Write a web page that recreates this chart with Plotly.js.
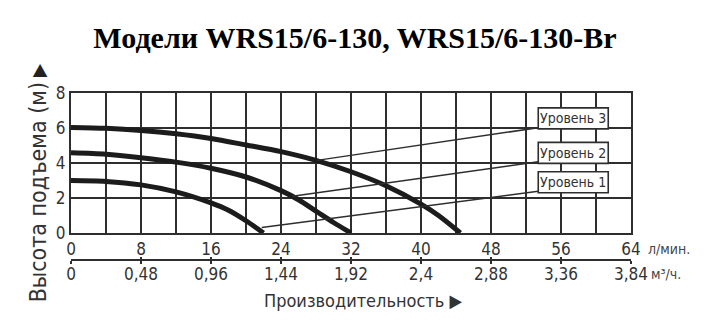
<!DOCTYPE html>
<html>
<head>
<meta charset="utf-8">
<script src="https://cdn.plot.ly/plotly-3.0.1.min.js"></script>
<style>html,body{margin:0;padding:0;background:#fff;}#chart{width:710px;height:335px;}</style>
</head>
<body>
<div id="chart"></div>
<script>
// ---- data ----
const level1X = [0, 4, 8, 12, 16, 18, 20, 22];
const level1Y = [3.0, 2.95, 2.75, 2.35, 1.72, 1.3, 0.7, 0];
const level2X = [0, 4, 8, 12, 16, 20, 24, 26, 28, 30, 32];
const level2Y = [4.58, 4.5, 4.3, 4.05, 3.7, 3.2, 2.42, 1.9, 1.25, 0.6, 0];
const level3X = [0, 4, 8, 12, 16, 20, 24, 28, 32, 36, 40, 42, 44.5];
const level3Y = [6.03, 5.98, 5.86, 5.67, 5.4, 5.03, 4.65, 4.15, 3.5, 2.7, 1.65, 1.0, 0];

const leader1X = [21.8, 53.4], leader1Y = [0.32, 2.38];
const leader2X = [25.3, 53.4], leader2Y = [2.1, 4.07];
const leader3X = [28.1, 53.4], leader3Y = [4.15, 6.02];

const levelLabels = ["Уровень 1", "Уровень 2", "Уровень 3"];
const labelCenterY = [2.9, 4.58, 6.55];

const flowTicks = [0, 8, 16, 24, 32, 40, 48, 56, 64];
const flowTickText = ["0", "8", "16", "24", "32", "40", "48", "56", "64"];
const m3TickText = ["0", "0,48", "0,96", "1,44", "1,92", "2,4", "2,88", "3,36", "3,84"];
const headTicks = [0, 2, 4, 6, 8];

const titleText = "Модели WRS15/6-130, WRS15/6-130-Br";
const yTitleText = "Высота подъема (м)";
const xTitleText = "Производительность ▶";
const unitLmin = "л/мин.";
const unitM3 = "м³/ч.";

// ---- styling ----
const NARROW = "'Liberation Sans Narrow', 'Arial Narrow', 'DejaVu Sans Condensed', Arial, sans-serif";
const INK = "#2e2e2e";
const CURVE = "#1c1c1c";

const gridVals = [];
const gridText = [];
for (let v = 0; v <= 64; v += 4) {
  gridVals.push(v);
  const k = flowTicks.indexOf(v);
  gridText.push(k >= 0 ? flowTickText[k] : "");
}

const curveStyle = {color: CURVE, width: 5, shape: "spline", smoothing: 0.8};
const leaderStyle = {color: INK, width: 1.5};

const traces = [
  {x: level1X, y: level1Y, mode: "lines", line: curveStyle, hoverinfo: "skip"},
  {x: level2X, y: level2Y, mode: "lines", line: curveStyle, hoverinfo: "skip"},
  {x: level3X, y: level3Y, mode: "lines", line: curveStyle, hoverinfo: "skip"},
  {x: leader1X, y: leader1Y, mode: "lines", line: leaderStyle, hoverinfo: "skip"},
  {x: leader2X, y: leader2Y, mode: "lines", line: leaderStyle, hoverinfo: "skip"},
  {x: leader3X, y: leader3Y, mode: "lines", line: leaderStyle, hoverinfo: "skip"}
];

const shapes = labelCenterY.map(c => ({
  type: "rect", xref: "x", yref: "y",
  x0: 53.4, x1: 61.4, y0: c - 0.6, y1: c + 0.6,
  fillcolor: "#fff", line: {color: INK, width: 1.6}, layer: "above"
}));

const annotations = labelCenterY.map((c, i) => ({
  xref: "x", yref: "y", x: 57.4, y: c, text: levelLabels[i], showarrow: false,
  font: {family: NARROW, size: 14, color: "#333"}, xanchor: "center", yanchor: "middle"
}));

const Y_DOMAIN_LO = 27 / 167;

annotations.push(
  {xref: "paper", yref: "paper", xanchor: "left", yanchor: "middle", x: 1, xshift: 15, y: Y_DOMAIN_LO, yshift: -15.5,
   showarrow: false, text: unitLmin, font: {family: NARROW, size: 14, color: "#444"}},
  {xref: "paper", yref: "paper", xanchor: "left", yanchor: "middle", x: 1, xshift: 18, y: 0, yshift: -13.5,
   showarrow: false, text: unitM3, font: {family: NARROW, size: 14, color: "#444"}},
  {xref: "paper", yref: "paper", xanchor: "center", yanchor: "middle", x: 0.521, y: 0, yshift: -40, showarrow: false,
   text: xTitleText, font: {family: NARROW, size: 18, color: "#333"}},
  {xref: "paper", yref: "paper", xanchor: "center", yanchor: "middle", x: 0, xshift: -33, y: 0.405, showarrow: false,
   textangle: -90, text: yTitleText, font: {family: NARROW, size: 23, color: "#333"}},
  {xref: "paper", yref: "paper", xanchor: "center", yanchor: "middle", x: 0, xshift: -33, y: 1, yshift: 23, showarrow: false,
   textangle: -90, text: "▶", font: {family: NARROW, size: 19, color: "#222"}}
);

const tickFont = {family: NARROW, size: 17, color: "#333"};

const layout = {
  width: 710, height: 335,
  margin: {l: 71, r: 79, t: 93, b: 75},
  paper_bgcolor: "#fff", plot_bgcolor: "#fff",
  showlegend: false,
  title: {text: "<b>" + titleText + "</b>", x: 0.5, xanchor: "center", yref: "container", y: 0.887, yanchor: "middle",
          font: {family: "'Liberation Serif', 'Times New Roman', serif", size: 30, color: "#000"}},
  xaxis: {range: [0, 64], tickvals: gridVals, ticktext: gridText, showgrid: true, gridcolor: INK, gridwidth: 2,
          showline: true, linecolor: INK, linewidth: 2, mirror: true, ticks: "", zeroline: false,
          tickfont: tickFont, anchor: "y", fixedrange: true},
  xaxis2: {range: [0, 64], tickvals: flowTicks, ticktext: m3TickText, overlaying: "x", anchor: "free", position: 0,
           side: "bottom", showgrid: false, showline: true, linecolor: INK, linewidth: 2, ticks: "",
           zeroline: false, tickfont: tickFont, ticklabelstandoff: -1},
  xaxis3: {range: [0, 64], tickvals: flowTicks, overlaying: "x", anchor: "free", position: 0, side: "bottom",
           showgrid: false, showline: false, ticks: "inside", ticklen: 3, tickwidth: 2, tickcolor: INK,
           showticklabels: false, zeroline: false},
  xaxis4: {range: [0, 64], tickvals: flowTicks, overlaying: "x", anchor: "free", position: 0, side: "bottom",
           showgrid: false, showline: false, ticks: "outside", ticklen: 3, tickwidth: 2, tickcolor: INK,
           showticklabels: false, zeroline: false},
  yaxis: {domain: [Y_DOMAIN_LO, 1], range: [0, 8], tickvals: headTicks, showgrid: true, gridcolor: INK, gridwidth: 2,
          showline: true, linecolor: INK, linewidth: 2, mirror: true, ticks: "", zeroline: false,
          tickfont: tickFont, fixedrange: true},
  shapes: shapes,
  annotations: annotations
};

// invisible traces so the overlay axes render
["x2", "x3", "x4"].forEach(ax => traces.push({x: [0], y: [0], xaxis: ax, yaxis: "y", mode: "markers",
  marker: {opacity: 0}, hoverinfo: "skip"}));

Plotly.newPlot("chart", traces, layout, {staticPlot: true, displayModeBar: false});
</script>
</body>
</html>
